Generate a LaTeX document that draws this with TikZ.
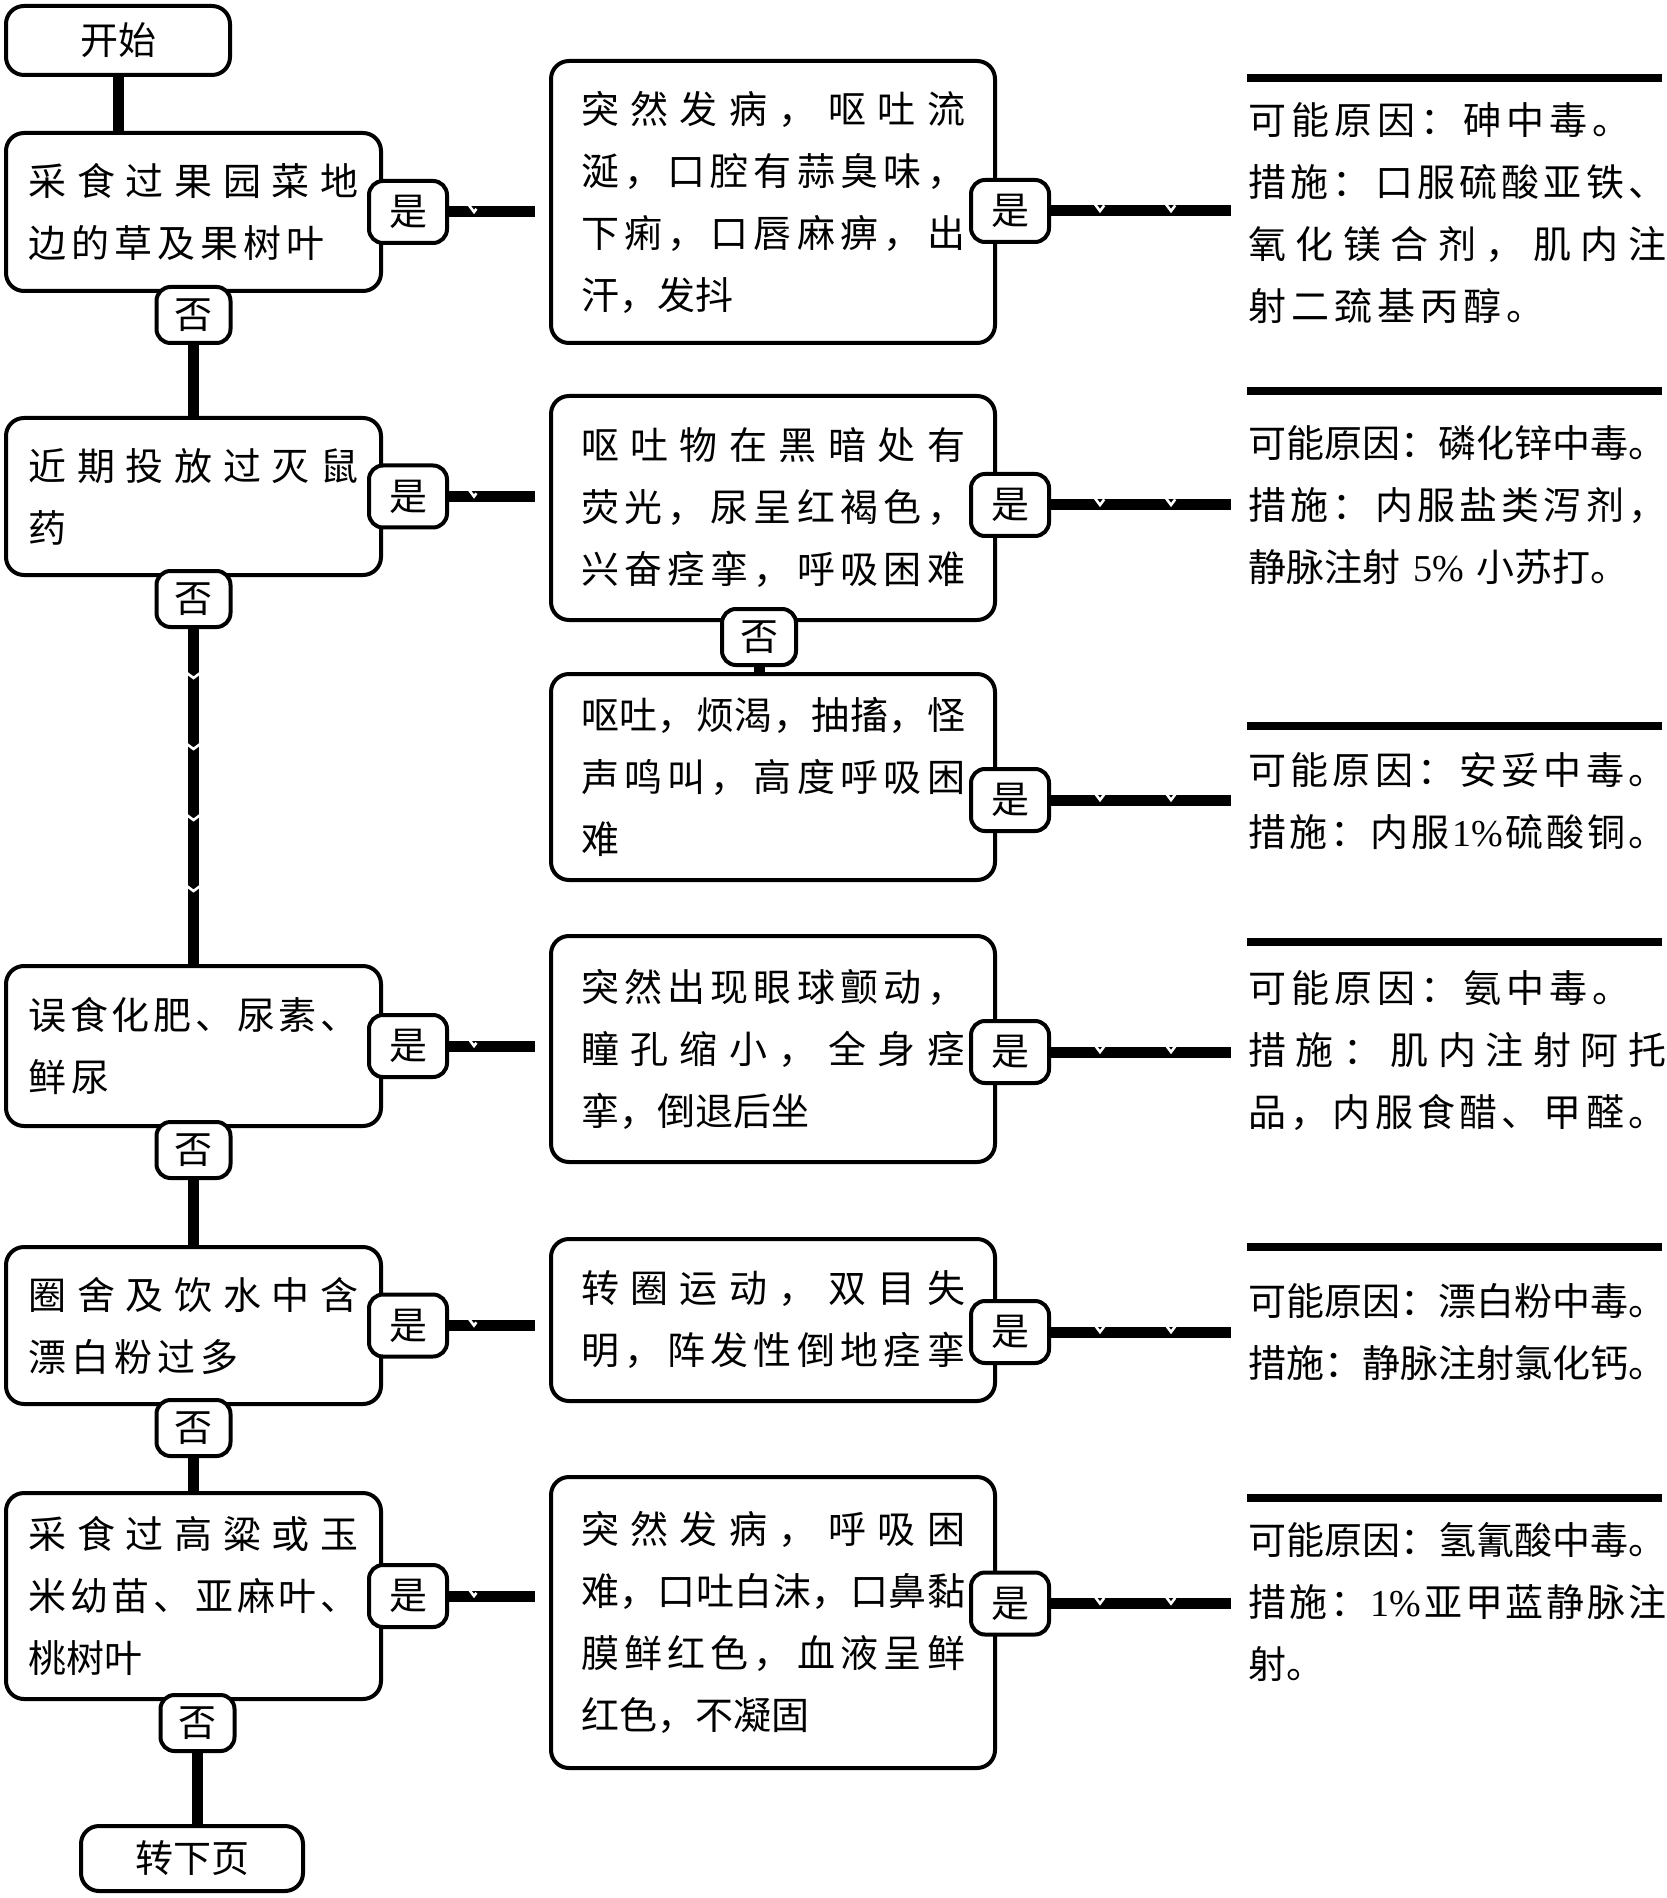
\documentclass[tikz,border=0pt]{standalone}
\usepackage{fontspec}
\usetikzlibrary{positioning,decorations.markings}
\newfontfamily\cjk{Noto Sans CJK SC}
\newfontfamily\latin{Liberation Serif}
\def\onepct{{\latin 1\%}}
\def\fivepct{{\latin 5\%}}
% justified line and letter-spaced line
\newcommand\jl[1]{\makebox[\hsize][s]{\jlaux#1\relax\unskip}}
\def\jlaux#1{\ifx\relax#1\else#1\hfil\expandafter\jlaux\fi}
\newcommand\ls[1]{\lsaux#1\relax\unskip}
\def\lsaux#1{\ifx\relax#1\else#1\hskip2.5pt\expandafter\lsaux\fi}

\begin{document}
\begin{tikzpicture}[x=0.5pt,y=-0.5pt,font=\cjk\fontsize{19}{31}\selectfont,
  notched/.style={postaction={decorate,decoration={markings,
    mark=between positions #1 and -6pt step 35.5pt with
    {\draw[white,line width=1.3pt] (-2.5pt,4pt) -- (0.5pt,0pt) -- (-2.5pt,-4pt);}}}},
  notched/.default=24pt]
  \tikzstyle{box}=[draw,line width=2pt,rounded corners=9pt,inner sep=0pt,align=left]
  \tikzstyle{leftbox}=[box,minimum width=187.5pt,text width=165pt]
  \tikzstyle{midbox}=[box,minimum width=222pt,text width=192pt]
  \tikzstyle{tag}=[draw,fill=white,line width=2pt,rounded corners=7pt,inner sep=0pt]
  \tikzstyle{no}=[tag,minimum width=37pt,minimum height=28pt]
  \tikzstyle{yes}=[tag,minimum width=39pt,minimum height=31pt]
  \tikzstyle{result}=[anchor=north west,inner sep=0pt,text width=209pt,align=left]
  \tikzstyle{chain}=[line width=5.5pt]
  \tikzstyle{rulebar}=[line width=4pt]

  \useasboundingbox (0,0) rectangle (1666,1898);

  % question column
  \node[box,minimum width=112pt,minimum height=34.5pt,align=center] (start) at (118,40.5) {开始};
  \node[leftbox,minimum height=79pt]   (b1) at (193.5,212)    {\jl{采食过果园菜地}\\\ls{边的草及果树叶}};
  \node[leftbox,minimum height=78.5pt] (b2) at (193.5,496.5)  {\jl{近期投放过灭鼠}\\药};
  \node[leftbox,minimum height=80pt]   (b3) at (193.5,1046)   {\jl{误食化肥、尿素、}\\\ls{鲜尿}};
  \node[leftbox,minimum height=78.5pt] (b4) at (193.5,1325.5) {\jl{圈舍及饮水中含}\\\ls{漂白粉过多}};
  \node[leftbox,minimum height=103pt]  (b5) at (193.5,1596)   {\jl{采食过高粱或玉}\\\jl{米幼苗、亚麻叶、}\\桃树叶};
  \node[box,minimum width=111pt,minimum height=32.5pt,align=center] (end) at (192,1858.5) {转下页};

  % symptom column
  \node[midbox,minimum height=141pt]   (m1) at (773,202)    {\jl{突然发病，呕吐流}\\\jl{涎，口腔有蒜臭味，}\\\jl{下痢，口唇麻痹，出}\\汗，发抖};
  \node[midbox,minimum height=112pt]   (m2) at (773,508)    {\jl{呕吐物在黑暗处有}\\\jl{荧光，尿呈红褐色，}\\\jl{兴奋痉挛，呼吸困难}};
  \node[midbox,minimum height=103pt]   (m3) at (773,777)    {\jl{呕吐，烦渴，抽搐，怪}\\\jl{声鸣叫，高度呼吸困}\\难};
  \node[midbox,minimum height=113pt]   (m4) at (773,1049)   {\jl{突然出现眼球颤动，}\\\jl{瞳孔缩小，全身痉}\\挛，倒退后坐};
  \node[midbox,minimum height=81pt]    (m5) at (773,1320)   {\jl{转圈运动，双目失}\\\jl{明，阵发性倒地痉挛}};
  \node[midbox,minimum height=145.5pt] (m6) at (773,1622.5) {\jl{突然发病，呼吸困}\\\jl{难，口吐白沫，口鼻黏}\\\jl{膜鲜红色，血液呈鲜}\\红色，不凝固};

  % cause and treatment
  \node[result] (r1) at (1248,102)  {\ls{可能原因：砷中毒。}\\\jl{措施：口服硫酸亚铁、}\\\jl{氧化镁合剂，肌内注}\\\ls{射二巯基丙醇。}};
  \node[result] (r2) at (1248,425)  {\jl{可能原因：磷化锌中毒。}\\\jl{措施：内服盐类泻剂，}\\静脉注射 \fivepct{} 小苏打。};
  \node[result] (r3) at (1248,752)  {\jl{可能原因：安妥中毒。}\\\jl{措施：内服\onepct 硫酸铜。}};
  \node[result] (r4) at (1248,970)  {\ls{可能原因：氨中毒。}\\\jl{措施：肌内注射阿托}\\\jl{品，内服食醋、甲醛。}};
  \node[result] (r5) at (1248,1283) {\jl{可能原因：漂白粉中毒。}\\\jl{措施：静脉注射氯化钙。}};
  \node[result] (r6) at (1248,1522) {\jl{可能原因：氢氰酸中毒。}\\\jl{措施：\onepct 亚甲蓝静脉注}\\射。};
  \foreach \y in {78,391,726,942,1247,1498}
    \draw[rulebar] (1247,\y) -- (1662,\y);

  % yes / no tags
  \node[no,below=-4pt of b1] (n1) {否};
  \node[no,below=-4pt of b2] (n2) {否};
  \node[no,below=-4pt of b3] (n3) {否};
  \node[no,below=-4pt of b4] (n4) {否};
  \node[no,below=-4pt of b5,xshift=2pt] (n5) {否};
  \node[no,below=-7.5pt of m2,xshift=-7pt] (x2) {否};
  \node[yes,right=-8pt of b1] (y1) {是};
  \node[yes,right=-8pt of b2] (y2) {是};
  \node[yes,right=-8pt of b3] (y3) {是};
  \node[yes,right=-8pt of b4] (y4) {是};
  \node[yes,right=-8pt of b5] (y5) {是};
  \node[yes,right=-14pt of m1,yshift=-4.5pt] (z1) {是};
  \node[yes,right=-14pt of m2,yshift=1.5pt]  (z2) {是};
  \node[yes,right=-14pt of m3,yshift=-11.5pt] (z3) {是};
  \node[yes,right=-14pt of m4,yshift=-1.5pt] (z4) {是};
  \node[yes,right=-14pt of m5,yshift=-6pt]   (z5) {是};
  \node[yes,right=-14pt of m6,yshift=9.5pt]  (z6) {是};

  % connectors
  \draw[chain] (start.south) -- (start.south |- b1.north);
  \draw[chain] (n1.south) -- (n1.south |- b2.north);
  \draw[chain,notched] (n2.south) -- (n2.south |- b3.north);
  \draw[chain] (n3.south) -- (n3.south |- b4.north);
  \draw[chain] (n4.south) -- (n4.south |- b5.north);
  \draw[chain] (n5.south) -- (n5.south |- end.north);
  \draw[chain] (x2.south) -- (x2.south |- m3.north);
  \foreach \a/\b in {y1/m1,y2/m2,y3/m4,y4/m5,y5/m6}
    \draw[chain,notched=12pt,shorten >=7pt] (\a.east) -- (\a.east -| \b.west);
  \foreach \i in {1,...,6}
    \draw[chain,notched,shorten >=8.5pt] (z\i.east) -- (z\i.east -| r\i.west);
\end{tikzpicture}
\end{document}
